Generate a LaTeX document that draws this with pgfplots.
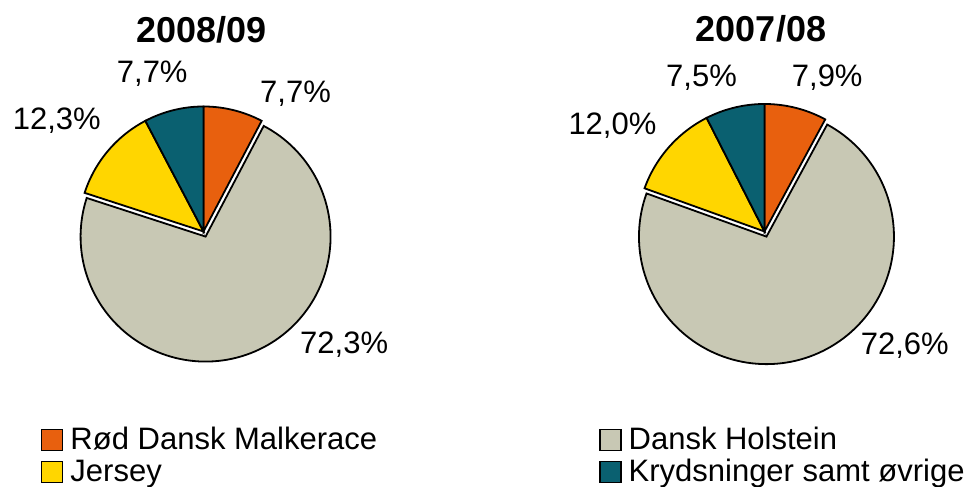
\documentclass[border=0pt]{standalone}
\usepackage{pgfplots}
\pgfplotsset{compat=1.18}
\usepackage{pgfplotstable}
\usepackage{fontspec}
\setmainfont{Liberation Sans}

\definecolor{cRod}{RGB}{232,96,14}
\definecolor{cHol}{RGB}{200,200,180}
\definecolor{cJer}{RGB}{255,214,0}
\definecolor{cKry}{RGB}{10,96,112}

\pgfplotstableread{
breed   y0809 y0708
RDM     7.7   7.9
DH      72.3  72.6
Jersey  12.3  12.0
Kryds   7.7   7.5
}\pietable

\newcommand\getval[3]{\pgfplotstablegetelem{#1}{#2}\of\pietable\let#3\pgfplotsretval}
\newcommand\labfont{\fontsize{31bp}{37bp}\selectfont}
\newcommand\titfont{\fontsize{36bp}{42bp}\selectfont\bfseries}

% #1 cx, #2 cy, #3 R, #4 start angle, #5 end angle, #6 colour
\newcommand\pieslice[6]{%
  \addplot[forget plot, draw=black, line width=1.8bp, fill=#6, line join=miter,
    domain=#5:#4, samples=120, variable=\t]
  ({#1+#3*cos(\t)}, {#2+#3*sin(\t)}) -- (axis cs:#1,#2) -- cycle;}

\begin{document}%
\begin{tikzpicture}
% values
\getval{0}{y0809}\La \getval{1}{y0809}\Lb \getval{2}{y0809}\Lc \getval{3}{y0809}\Ld
\getval{0}{y0708}\Ra \getval{1}{y0708}\Rb \getval{2}{y0708}\Rc \getval{3}{y0708}\Rd
% left pie angles
\pgfmathsetmacro\LAa{90}
\pgfmathsetmacro\LAb{\LAa-3.6*\La}
\pgfmathsetmacro\LAc{\LAb-3.6*\Lb}
\pgfmathsetmacro\LAd{\LAc-3.6*\Lc}
\pgfmathsetmacro\LAe{\LAd-3.6*\Ld}
\pgfmathsetmacro\LMid{(\LAb+\LAc)/2}
\pgfmathsetmacro\LHx{203.5+5.5*cos(\LMid)}
\pgfmathsetmacro\LHy{-231.5+5.5*sin(\LMid)}
% right pie angles
\pgfmathsetmacro\RAa{90}
\pgfmathsetmacro\RAb{\RAa-3.6*\Ra}
\pgfmathsetmacro\RAc{\RAb-3.6*\Rb}
\pgfmathsetmacro\RAd{\RAc-3.6*\Rc}
\pgfmathsetmacro\RAe{\RAd-3.6*\Rd}
\pgfmathsetmacro\RMid{(\RAb+\RAc)/2}
\pgfmathsetmacro\RHx{764.5+5.5*cos(\RMid)}
\pgfmathsetmacro\RHy{-231.5+5.5*sin(\RMid)}
\begin{axis}[name=main, x=1bp, y=1bp, xmin=0, xmax=976, ymin=-487, ymax=0,
  hide axis, clip=false, anchor=south west, at={(0,0)},
  legend columns=2, legend cell align=left,
  legend image code/.code={\draw[#1] (0bp,-1.3bp) rectangle (21bp,19.7bp);},
  legend style={at={(0.042,0.1246)}, anchor=north west, draw=none, fill=none,
    inner sep=0pt, outer sep=0pt, row sep=2bp, font=\labfont,
    nodes={inner sep=0pt, anchor=base west, text height=23bp, text depth=7bp},
    /tikz/every odd column/.append style={column sep=7bp},
    /tikz/column 2/.style={column sep=222bp}},
]
\addlegendimage{fill=cRod, draw=black, line width=1.5bp}
\addlegendentry{Rød Dansk Malkerace}
\addlegendimage{fill=cHol, draw=black, line width=1.5bp}
\addlegendentry{Dansk Holstein}
\addlegendimage{fill=cJer, draw=black, line width=1.5bp}
\addlegendentry{Jersey}
\addlegendimage{fill=cKry, draw=black, line width=1.5bp}
\addlegendentry{Krydsninger samt øvrige}

% left pie 2008/09
\pieslice{\LHx}{\LHy}{125}{\LAb}{\LAc}{cHol}
\pieslice{203.5}{-231.5}{125}{\LAa}{\LAb}{cRod}
\pieslice{203.5}{-231.5}{125}{\LAc}{\LAd}{cJer}
\pieslice{203.5}{-231.5}{125}{\LAd}{\LAe}{cKry}
% right pie 2007/08
\pieslice{\RHx}{\RHy}{127.5}{\RAb}{\RAc}{cHol}
\pieslice{764.5}{-231.5}{127.5}{\RAa}{\RAb}{cRod}
\pieslice{764.5}{-231.5}{127.5}{\RAc}{\RAd}{cJer}
\pieslice{764.5}{-231.5}{127.5}{\RAd}{\RAe}{cKry}

% titles
\node[anchor=base, inner sep=0pt, font=\titfont] at (axis cs:201.7,-43) {2008/09};
\node[anchor=base, inner sep=0pt, font=\titfont] at (axis cs:761,-42) {2007/08};
% data labels
\node[anchor=base west, inner sep=0pt, font=\labfont] at (axis cs:260,-102.7) {7,7\%};
\node[anchor=base west, inner sep=0pt, font=\labfont] at (axis cs:116.7,-82.3) {7,7\%};
\node[anchor=base west, inner sep=0pt, font=\labfont] at (axis cs:12.7,-130) {12,3\%};
\node[anchor=base west, inner sep=0pt, font=\labfont] at (axis cs:300,-353.3) {72,3\%};
\node[anchor=base west, inner sep=0pt, font=\labfont] at (axis cs:791.7,-86.7) {7,9\%};
\node[anchor=base west, inner sep=0pt, font=\labfont] at (axis cs:666,-86.7) {7,5\%};
\node[anchor=base west, inner sep=0pt, font=\labfont] at (axis cs:568.3,-134.3) {12,0\%};
\node[anchor=base west, inner sep=0pt, font=\labfont] at (axis cs:860.7,-355) {72,6\%};
\coordinate (BL) at (axis cs:0,-487);
\coordinate (TR) at (axis cs:976,0);
\end{axis}
\pgfresetboundingbox
\path[use as bounding box] (BL) rectangle (TR);
\end{tikzpicture}%
\end{document}
